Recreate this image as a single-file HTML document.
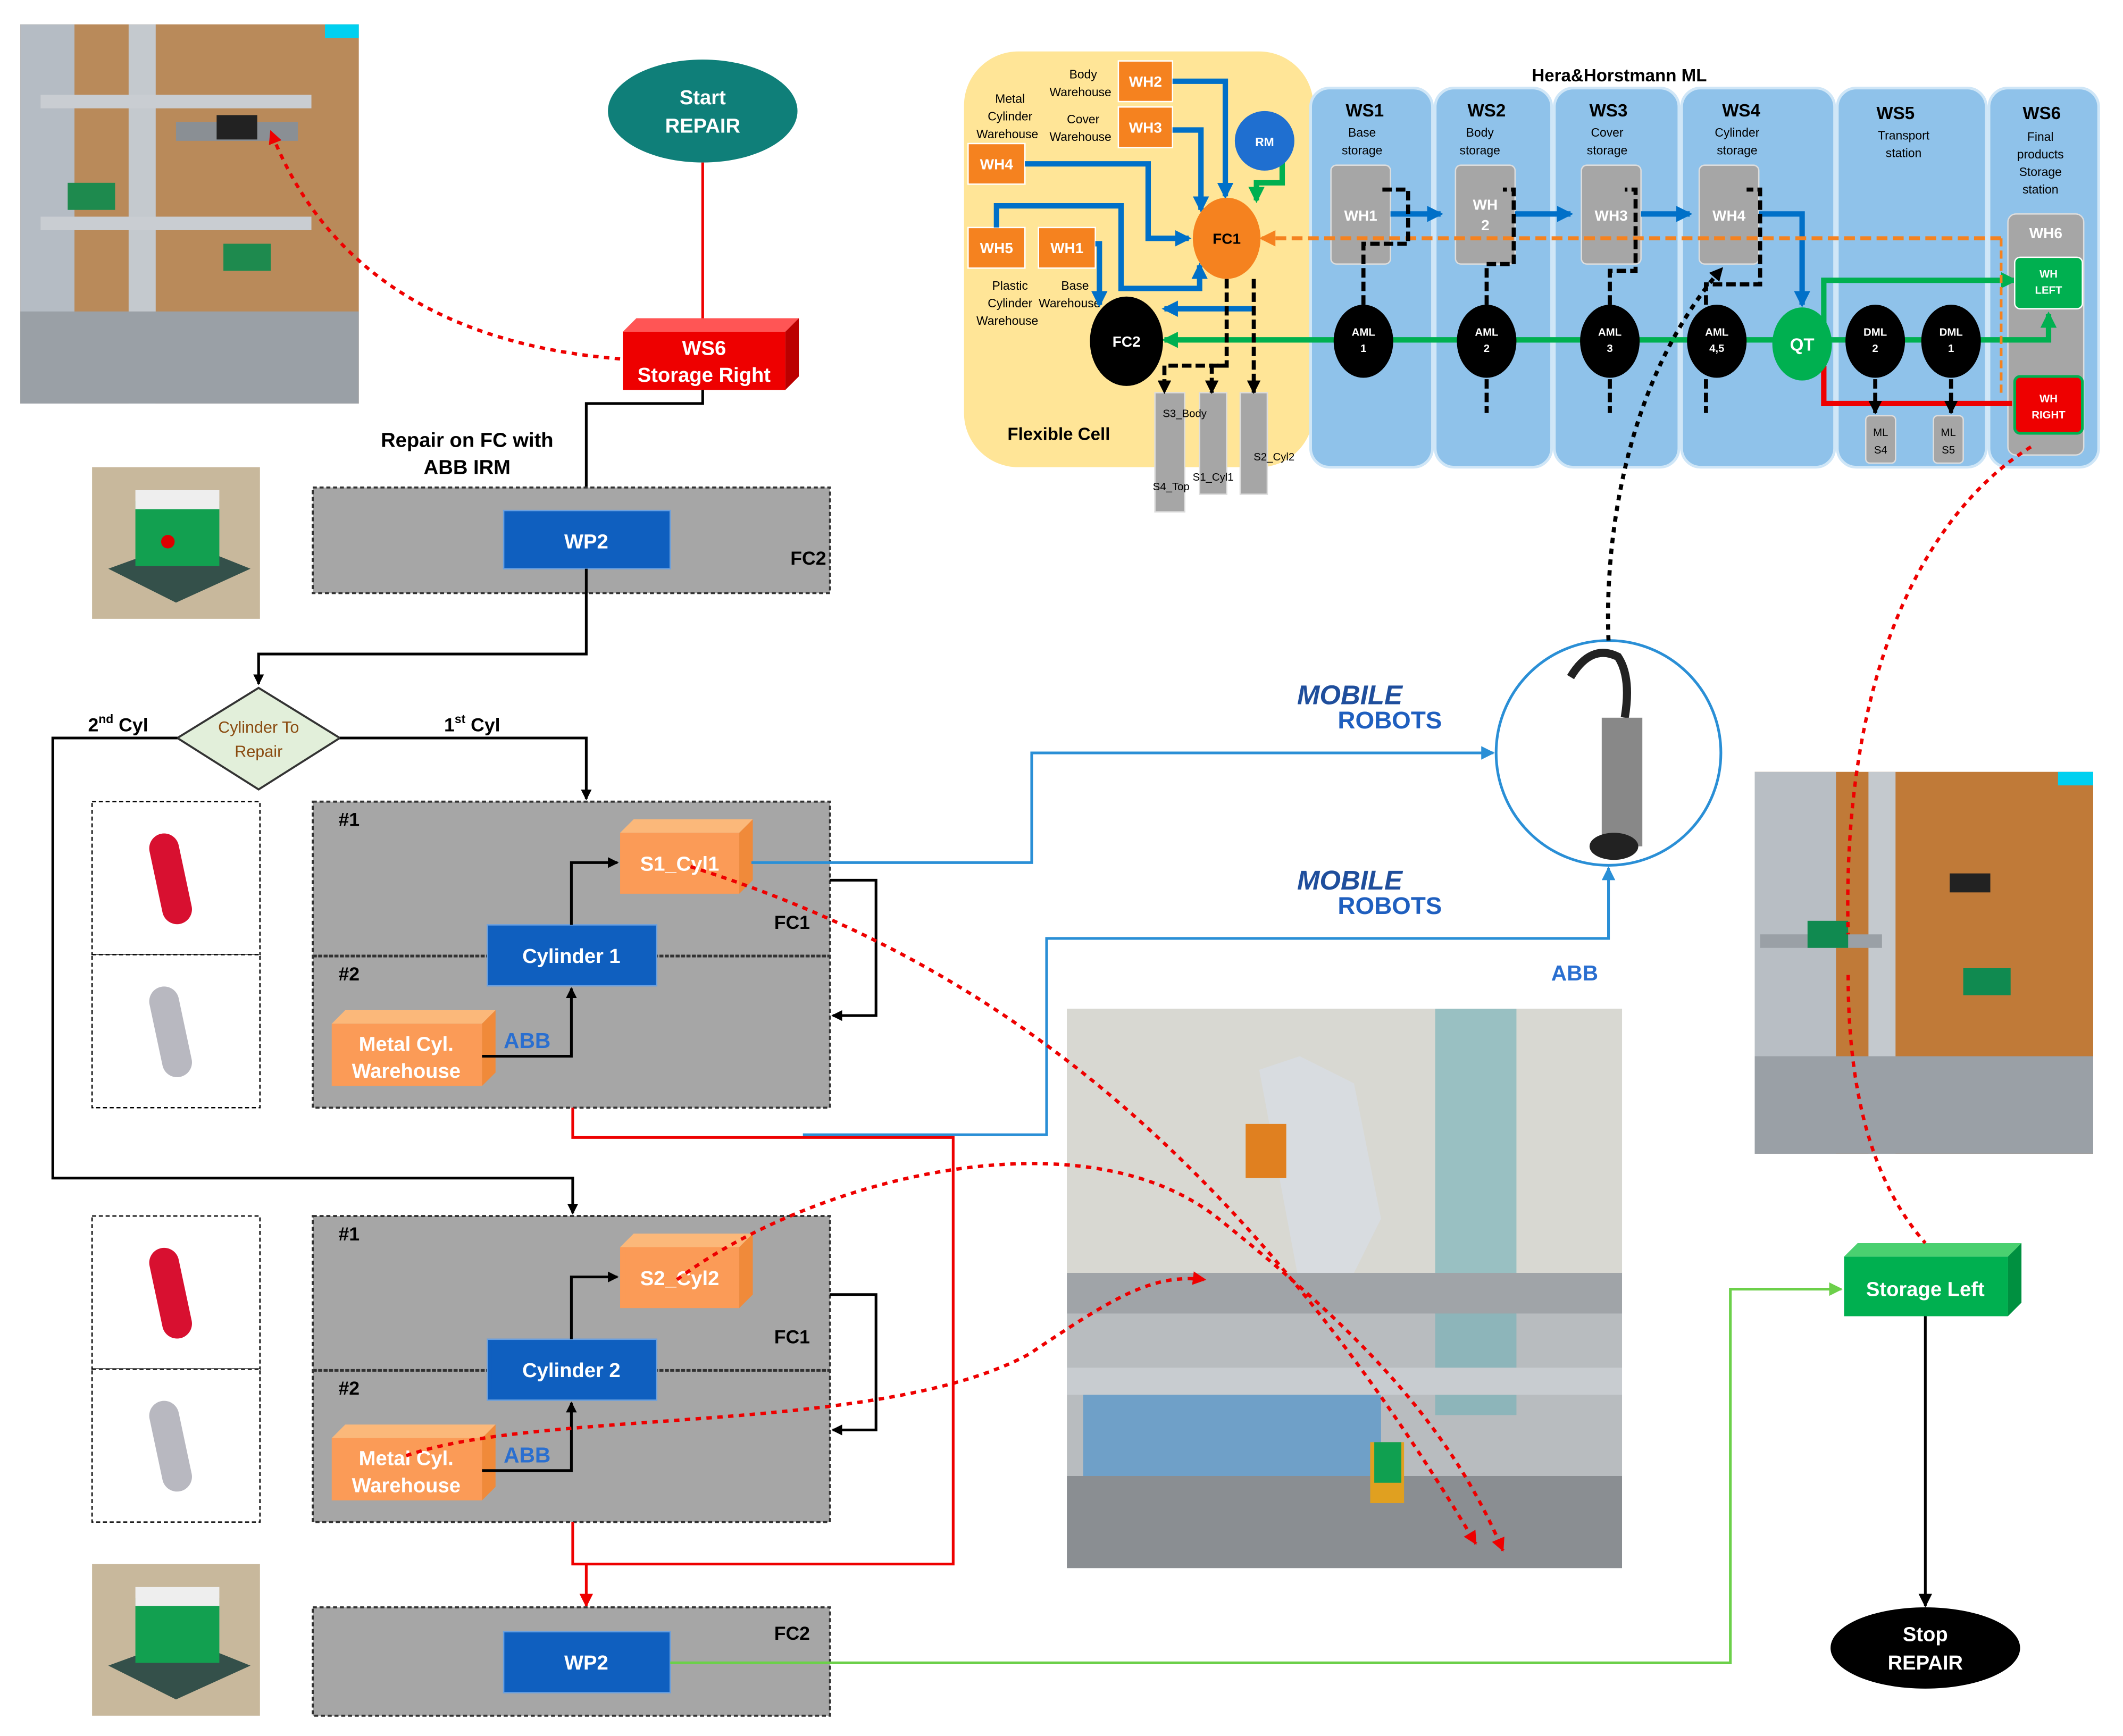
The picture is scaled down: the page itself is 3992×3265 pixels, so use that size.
<!DOCTYPE html>
<html><head><meta charset="utf-8"><style>
html,body{margin:0;padding:0;background:#fff;}
svg{display:block;}
text{font-family:"Liberation Sans",sans-serif;}
</style></head><body>
<svg width="3992" height="3265" viewBox="0 0 1568 1282" preserveAspectRatio="none" xmlns="http://www.w3.org/2000/svg">
<defs>
<marker id="ab" markerWidth="8" markerHeight="8" refX="7" refY="4" orient="auto" markerUnits="userSpaceOnUse"><path d="M0,0 L8,4 L0,8 z" fill="#000"/></marker>
<marker id="ar" markerWidth="10" markerHeight="10" refX="9" refY="5" orient="auto" markerUnits="userSpaceOnUse"><path d="M0,0 L10,5 L0,10 z" fill="#e00"/></marker>
<marker id="abl" markerWidth="10" markerHeight="10" refX="9" refY="5" orient="auto" markerUnits="userSpaceOnUse"><path d="M0,0 L10,5 L0,10 z" fill="#2a8fd6"/></marker>
<marker id="ag" markerWidth="10" markerHeight="10" refX="9" refY="5" orient="auto" markerUnits="userSpaceOnUse"><path d="M0,0 L10,5 L0,10 z" fill="#6cd04a"/></marker>
<marker id="ab2" markerWidth="12" markerHeight="12" refX="10" refY="6" orient="auto" markerUnits="userSpaceOnUse"><path d="M0,0 L12,6 L0,12 z" fill="#0070c8"/></marker>
<marker id="ag2" markerWidth="12" markerHeight="12" refX="10" refY="6" orient="auto" markerUnits="userSpaceOnUse"><path d="M0,0 L12,6 L0,12 z" fill="#00b050"/></marker>
<marker id="ao" markerWidth="12" markerHeight="12" refX="10" refY="6" orient="auto" markerUnits="userSpaceOnUse"><path d="M0,0 L12,6 L0,12 z" fill="#f58220"/></marker>
<marker id="ak" markerWidth="10" markerHeight="10" refX="9" refY="5" orient="auto" markerUnits="userSpaceOnUse"><path d="M0,0 L10,5 L0,10 z" fill="#000"/></marker>
</defs>

<!-- top-left photo -->
<rect x="15" y="18" width="250" height="280" fill="#b98a5a"/>
<rect x="15" y="18" width="40" height="280" fill="#b5bcc4"/>
<rect x="95" y="18" width="20" height="280" fill="#c4c9ce"/>
<rect x="30" y="70" width="200" height="10" fill="#c9cdd2"/>
<rect x="30" y="160" width="200" height="10" fill="#c9cdd2"/>
<rect x="130" y="90" width="90" height="14" fill="#8a8f94"/>
<rect x="160" y="85" width="30" height="18" fill="#222"/>
<rect x="50" y="135" width="35" height="20" fill="#1e8a4e"/>
<rect x="165" y="180" width="35" height="20" fill="#1e8a4e"/>
<rect x="15" y="230" width="250" height="68" fill="#9aa0a6"/>
<rect x="240" y="18" width="25" height="10" fill="#00d0f0"/>

<!-- start -->
<ellipse cx="519" cy="82" rx="70" ry="38" fill="#0f7f79"/>
<text x="519" y="77" font-size="15" fill="#fff" text-anchor="middle" font-weight="bold">Start</text>
<text x="519" y="98" font-size="15" fill="#fff" text-anchor="middle" font-weight="bold">REPAIR</text>
<line x1="519" y1="120" x2="519" y2="240" stroke="#e00" stroke-width="2"/>
<!-- WS6 storage right -->
<polygon points="460,245 470,235 590,235 580,245" fill="#f55"/>
<polygon points="580,245 590,235 590,278 580,288" fill="#b00"/>
<rect x="460" y="245" width="120" height="43" fill="#e00"/>
<text x="520" y="262" font-size="15" fill="#fff" text-anchor="middle" font-weight="bold">WS6</text>
<text x="520" y="282" font-size="15" fill="#fff" text-anchor="middle" font-weight="bold">Storage Right</text>
<polyline points="519,288 519,298 433,298 433,375" fill="none" stroke="#000" stroke-width="2" marker-end="url(#ab)"/>
<text x="345" y="330" font-size="15" text-anchor="middle" font-weight="bold">Repair on FC with</text>
<text x="345" y="350" font-size="15" text-anchor="middle" font-weight="bold">ABB IRM</text>

<!-- part image top -->
<rect x="68" y="345" width="124" height="112" fill="#c8b89c"/>
<polygon points="80,420 130,445 185,420 135,400" fill="#34504a"/>
<rect x="100" y="370" width="62" height="48" fill="#12a050"/>
<rect x="100" y="362" width="62" height="14" fill="#eee"/>
<circle cx="124" cy="400" r="5" fill="#d00"/>

<!-- box FC2 top -->
<rect x="231" y="360" width="382" height="78" fill="#a6a6a6" stroke="#333" stroke-width="1.5" stroke-dasharray="3,2"/>
<rect x="372" y="377" width="123" height="43" fill="#0f5fbf" stroke="#6aa0e0"/>
<text x="433" y="405" font-size="15" fill="#fff" text-anchor="middle" font-weight="bold">WP2</text>
<text x="597" y="417" font-size="14" text-anchor="middle" font-weight="bold">FC2</text>
<polyline points="433,420 433,483 191,483 191,505" fill="none" stroke="#000" stroke-width="2" marker-end="url(#ab)"/>

<!-- diamond -->
<polygon points="191,508 251,545 191,583 131,545" fill="#e2efda" stroke="#333" stroke-width="1.5"/>
<text x="191" y="541" font-size="12" fill="#8a4b10" text-anchor="middle">Cylinder To</text>
<text x="191" y="559" font-size="12" fill="#8a4b10" text-anchor="middle">Repair</text>
<text x="65" y="540" font-size="14" font-weight="bold">2<tspan font-size="9" dy="-6">nd</tspan><tspan dy="6"> Cyl</tspan></text>
<text x="328" y="540" font-size="14" font-weight="bold">1<tspan font-size="9" dy="-6">st</tspan><tspan dy="6"> Cyl</tspan></text>
<polyline points="251,545 433,545 433,590" fill="none" stroke="#000" stroke-width="2" marker-end="url(#ab)"/>
<polyline points="131,545 39,545 39,870 423,870 423,896" fill="none" stroke="#000" stroke-width="2" marker-end="url(#ab)"/>

<!-- cylinder images -->
<g>
<rect x="68" y="592" width="124" height="113" fill="#fff" stroke="#000" stroke-dasharray="3,2"/>
<rect x="68" y="705" width="124" height="113" fill="#fff" stroke="#000" stroke-dasharray="3,2"/>
<rect x="115" y="615" width="22" height="68" rx="11" fill="#d81030" transform="rotate(-12 126 649)"/>
<rect x="115" y="728" width="22" height="68" rx="11" fill="#b8b8c0" transform="rotate(-12 126 762)"/>
<rect x="68" y="898" width="124" height="113" fill="#fff" stroke="#000" stroke-dasharray="3,2"/>
<rect x="68" y="1011" width="124" height="113" fill="#fff" stroke="#000" stroke-dasharray="3,2"/>
<rect x="115" y="921" width="22" height="68" rx="11" fill="#d81030" transform="rotate(-12 126 955)"/>
<rect x="115" y="1034" width="22" height="68" rx="11" fill="#b8b8c0" transform="rotate(-12 126 1068)"/>
</g>

<!-- FC1 box 1 -->
<g id="b1">
<rect x="231" y="592" width="382" height="226" fill="#a6a6a6" stroke="#333" stroke-width="1.5" stroke-dasharray="3,2"/>
<line x1="231" y1="706" x2="613" y2="706" stroke="#333" stroke-width="2" stroke-dasharray="3,1"/>
<text x="250" y="610" font-size="14" font-weight="bold">#1</text>
<text x="250" y="724" font-size="14" font-weight="bold">#2</text>
<text x="585" y="686" font-size="14" text-anchor="middle" font-weight="bold">FC1</text>
<polygon points="458,615 468,605 556,605 546,615" fill="#fbb87a"/>
<polygon points="546,615 556,605 556,650 546,660" fill="#f08a3a"/>
<rect x="458" y="615" width="88" height="45" fill="#fb9b57"/>
<text x="502" y="643" font-size="15" fill="#fff" text-anchor="middle" font-weight="bold">S1_Cyl1</text>
<rect x="360" y="683" width="125" height="45" fill="#0f5fbf" stroke="#6aa0e0"/>
<text x="422" y="711" font-size="15" fill="#fff" text-anchor="middle" font-weight="bold">Cylinder 1</text>
<polygon points="245,756 255,746 366,746 356,756" fill="#fbb87a"/>
<polygon points="356,756 366,746 366,792 356,802" fill="#f08a3a"/>
<rect x="245" y="756" width="111" height="46" fill="#fb9b57"/>
<text x="300" y="776" font-size="15" fill="#fff" text-anchor="middle" font-weight="bold">Metal Cyl.</text>
<text x="300" y="796" font-size="15" fill="#fff" text-anchor="middle" font-weight="bold">Warehouse</text>
<text x="372" y="774" font-size="16" fill="#2a6fd0" font-weight="bold">ABB</text>
<polyline points="356,780 422,780 422,730" fill="none" stroke="#000" stroke-width="2" marker-end="url(#ab)"/>
<polyline points="422,683 422,637 456,637" fill="none" stroke="#000" stroke-width="2" marker-end="url(#ab)"/>
<polyline points="613,650 647,650 647,750 615,750" fill="none" stroke="#000" stroke-width="2" marker-end="url(#ab)"/>
</g>
<use href="#b1" transform="translate(0,306)"/>
<rect x="462" y="921" width="80" height="40" fill="#fb9b57"/>
<text x="502" y="949" font-size="15" fill="#fff" text-anchor="middle" font-weight="bold">S2_Cyl2</text>
<rect x="363" y="992" width="119" height="40" fill="#0f5fbf"/>
<text x="422" y="1017" font-size="15" fill="#fff" text-anchor="middle" font-weight="bold">Cylinder 2</text>

<!-- red path -->
<polyline points="423,818 423,840 704,840 704,1155 433,1155" fill="none" stroke="#e00" stroke-width="2"/>
<polyline points="423,1124 423,1155 433,1155 433,1186" fill="none" stroke="#e00" stroke-width="2" marker-end="url(#ar)"/>

<!-- FC2 bottom -->
<rect x="68" y="1155" width="124" height="112" fill="#c8b89c"/>
<polygon points="80,1230 130,1255 185,1230 135,1210" fill="#34504a"/>
<rect x="100" y="1180" width="62" height="48" fill="#12a050"/>
<rect x="100" y="1172" width="62" height="14" fill="#eee"/>
<rect x="231" y="1187" width="382" height="80" fill="#a6a6a6" stroke="#333" stroke-width="1.5" stroke-dasharray="3,2"/>
<rect x="372" y="1205" width="123" height="45" fill="#0f5fbf" stroke="#6aa0e0"/>
<text x="433" y="1233" font-size="15" fill="#fff" text-anchor="middle" font-weight="bold">WP2</text>
<text x="585" y="1211" font-size="14" text-anchor="middle" font-weight="bold">FC2</text>
<polyline points="495,1228 1278,1228 1278,952 1360,952" fill="none" stroke="#6cd04a" stroke-width="2" marker-end="url(#ag)"/>

<!-- storage left, stop -->
<polygon points="1362,928 1372,918 1493,918 1483,928" fill="#4ad070"/>
<polygon points="1483,928 1493,918 1493,962 1483,972" fill="#009040"/>
<rect x="1362" y="928" width="121" height="44" fill="#00b050"/>
<text x="1422" y="957" font-size="15" fill="#fff" text-anchor="middle" font-weight="bold">Storage Left</text>
<line x1="1422" y1="972" x2="1422" y2="1186" stroke="#000" stroke-width="2" marker-end="url(#ak)"/>
<ellipse cx="1422" cy="1217" rx="70" ry="30" fill="#000"/>
<text x="1422" y="1212" font-size="15" fill="#fff" text-anchor="middle" font-weight="bold">Stop</text>
<text x="1422" y="1233" font-size="15" fill="#fff" text-anchor="middle" font-weight="bold">REPAIR</text>

<!-- robot circle -->
<circle cx="1188" cy="556" r="83" fill="#fff" stroke="#2a8fd6" stroke-width="2"/>
<path d="M1160,500 Q1175,475 1195,485 Q1205,500 1200,530" fill="none" stroke="#222" stroke-width="6"/>
<rect x="1183" y="530" width="30" height="95" fill="#888"/>
<ellipse cx="1192" cy="625" rx="18" ry="10" fill="#222"/>
<polyline points="555,637 762,637 762,556 1103,556" fill="none" stroke="#2a8fd6" stroke-width="2" marker-end="url(#abl)"/>
<polyline points="593,838 773,838 773,693 1188,693 1188,641" fill="none" stroke="#2a8fd6" stroke-width="2" marker-end="url(#abl)"/>
<text x="958" y="520" font-size="20" fill="#1f4e9c" font-style="italic" font-weight="bold">MOBILE</text>
<text x="988" y="538" font-size="18" fill="#1f5fbf" font-weight="bold">ROBOTS</text>
<text x="958" y="657" font-size="20" fill="#1f4e9c" font-style="italic" font-weight="bold">MOBILE</text>
<text x="988" y="675" font-size="18" fill="#1f5fbf" font-weight="bold">ROBOTS</text>
<text x="1163" y="724" font-size="16" fill="#2a6fd0" text-anchor="middle" font-weight="bold">ABB</text>

<!-- lab photo -->
<rect x="788" y="745" width="410" height="413" fill="#b8bcbf"/>
<rect x="788" y="745" width="410" height="200" fill="#d8d8d2"/>
<rect x="1060" y="745" width="60" height="300" fill="#6fb0b8" opacity="0.6"/>
<path d="M930,790 L960,780 L1000,800 L1020,900 L990,960 L960,950 Z" fill="#d8dce0"/>
<rect x="920" y="830" width="30" height="40" fill="#e08020"/>
<rect x="788" y="940" width="410" height="30" fill="#a0a4a8"/>
<rect x="788" y="1010" width="410" height="20" fill="#c8ccd0"/>
<rect x="800" y="1030" width="220" height="70" fill="#6fa0c8"/>
<rect x="788" y="1090" width="410" height="68" fill="#8a8e92"/>
<rect x="1012" y="1065" width="25" height="45" fill="#e0a020"/>
<rect x="1015" y="1065" width="20" height="30" fill="#10a050"/>

<!-- right photo -->
<rect x="1296" y="570" width="250" height="282" fill="#c07a38"/>
<rect x="1296" y="570" width="60" height="282" fill="#b8bec4"/>
<rect x="1380" y="570" width="20" height="282" fill="#c4c9ce"/>
<rect x="1300" y="690" width="90" height="10" fill="#9aa0a6"/>
<rect x="1335" y="680" width="30" height="20" fill="#108a50"/>
<rect x="1440" y="645" width="30" height="14" fill="#222"/>
<rect x="1450" y="715" width="35" height="20" fill="#108a50"/>
<rect x="1296" y="780" width="250" height="72" fill="#9aa0a6"/>
<rect x="1520" y="570" width="26" height="10" fill="#00d0f0"/>

<!-- top right diagram -->
<rect x="712" y="38" width="258" height="307" rx="40" fill="#ffe597"/>
<g fill="#8fc2ea" stroke="#cfe6f7" stroke-width="2">
<rect x="968" y="65" width="90" height="280" rx="14"/>
<rect x="1060" y="65" width="86" height="280" rx="14"/>
<rect x="1148" y="65" width="92" height="280" rx="14"/>
<rect x="1242" y="65" width="113" height="280" rx="14"/>
<rect x="1357" y="65" width="110" height="280" rx="14"/>
<rect x="1469" y="65" width="81" height="280" rx="14"/>
</g>
<text x="1196" y="60" font-size="13" text-anchor="middle" font-weight="bold">Hera&amp;Horstmann ML</text>
<g font-size="13" font-weight="bold" text-anchor="middle">
<text x="1008" y="86">WS1</text><text x="1098" y="86">WS2</text><text x="1188" y="86">WS3</text><text x="1286" y="86">WS4</text><text x="1400" y="88">WS5</text><text x="1508" y="88">WS6</text>
</g>
<g font-size="9" text-anchor="middle">
<text x="1006" y="101">Base</text><text x="1006" y="114">storage</text>
<text x="1093" y="101">Body</text><text x="1093" y="114">storage</text>
<text x="1187" y="101">Cover</text><text x="1187" y="114">storage</text>
<text x="1283" y="101">Cylinder</text><text x="1283" y="114">storage</text>
<text x="1406" y="103">Transport</text><text x="1406" y="116">station</text>
<text x="1507" y="104">Final</text><text x="1507" y="117">products</text><text x="1507" y="130">Storage</text><text x="1507" y="143">station</text>
<text x="800" y="58">Body</text><text x="798" y="71">Warehouse</text>
<text x="746" y="76">Metal</text><text x="746" y="89">Cylinder</text><text x="744" y="102">Warehouse</text>
<text x="800" y="91">Cover</text><text x="798" y="104">Warehouse</text>
<text x="746" y="214">Plastic</text><text x="746" y="227">Cylinder</text><text x="744" y="240">Warehouse</text>
<text x="794" y="214">Base</text><text x="790" y="227">Warehouse</text>
</g>
<text x="782" y="325" font-size="13" text-anchor="middle" font-weight="bold">Flexible Cell</text>
<g fill="#f5821f" stroke="#fff">
<rect x="826" y="45" width="40" height="30"/><rect x="826" y="79" width="40" height="30"/>
<rect x="715" y="106" width="42" height="30"/><rect x="715" y="168" width="42" height="30"/><rect x="767" y="168" width="42" height="30"/>
</g>
<g font-size="11" fill="#fff" font-weight="bold" text-anchor="middle">
<text x="846" y="64">WH2</text><text x="846" y="98">WH3</text><text x="736" y="125">WH4</text><text x="736" y="187">WH5</text><text x="788" y="187">WH1</text>
</g>
<g fill="#a6a6a6" stroke="#ddd">
<rect x="983" y="122" width="44" height="73" rx="4"/><rect x="1075" y="122" width="44" height="73" rx="4"/>
<rect x="1168" y="122" width="44" height="73" rx="4"/><rect x="1255" y="122" width="44" height="73" rx="4"/>
<rect x="1483" y="158" width="56" height="178" rx="6"/>
<rect x="853" y="290" width="22" height="88"/><rect x="886" y="290" width="20" height="75"/><rect x="916" y="290" width="20" height="75"/>
<rect x="1378" y="307" width="22" height="35" rx="3"/><rect x="1428" y="307" width="22" height="35" rx="3"/>
</g>
<g font-size="11" fill="#fff" font-weight="bold" text-anchor="middle">
<text x="1005" y="163">WH1</text><text x="1097" y="155">WH</text><text x="1097" y="170">2</text>
<text x="1190" y="163">WH3</text><text x="1277" y="163">WH4</text><text x="1511" y="176">WH6</text>
</g>
<g font-size="8" text-anchor="middle"><text x="875" y="308">S3_Body</text><text x="896" y="355">S1_Cyl1</text><text x="941" y="340">S2_Cyl2</text><text x="865" y="362">S4_Top</text>
<text x="1389" y="322">ML</text><text x="1389" y="335">S4</text><text x="1439" y="322">ML</text><text x="1439" y="335">S5</text></g>
<g fill="none" stroke="#0070c8" stroke-width="4">
<polyline points="866,60 905,60 905,145" marker-end="url(#ab2)"/>
<polyline points="866,96 887,96 887,155" marker-end="url(#ab2)"/>
<polyline points="757,121 848,121 848,176 878,176" marker-end="url(#ab2)"/>
<polyline points="736,168 736,152 828,152 828,213 886,213 886,196" marker-end="url(#ab2)"/>
<polyline points="809,180 812,180 812,225" marker-end="url(#ab2)"/>
<polyline points="927,228 860,228" marker-end="url(#ab2)"/>
<polyline points="1027,158 1064,158" marker-end="url(#ab2)"/>
<polyline points="1119,158 1160,158" marker-end="url(#ab2)"/>
<polyline points="1212,158 1248,158" marker-end="url(#ab2)"/>
<polyline points="1299,158 1331,158 1331,225" marker-end="url(#ab2)"/>
</g>
<polyline points="947,117 947,135 928,135 928,148" fill="none" stroke="#00b050" stroke-width="4" marker-end="url(#ag2)"/>
<ellipse cx="934" cy="104" rx="22" ry="22" fill="#1f6fd0"/>
<text x="934" y="108" font-size="9" fill="#fff" text-anchor="middle" font-weight="bold">RM</text>
<ellipse cx="906" cy="176" rx="25" ry="30" fill="#f5821f"/>
<text x="906" y="180" font-size="11" font-weight="bold" text-anchor="middle">FC1</text>
<line x1="1480" y1="251" x2="860" y2="251" stroke="#00b050" stroke-width="4" marker-end="url(#ag2)"/>
<polyline points="1480,251 1513,251 1513,232" fill="none" stroke="#00b050" stroke-width="4" marker-end="url(#ag2)"/>
<polyline points="1347,240 1347,207 1488,207" fill="none" stroke="#00b050" stroke-width="4" marker-end="url(#ag2)"/>
<polyline points="1347,270 1347,298 1486,298" fill="none" stroke="#e00" stroke-width="4"/>
<line x1="1478" y1="176" x2="932" y2="176" stroke="#f58220" stroke-width="3" stroke-dasharray="8,4" marker-end="url(#ao)"/>
<line x1="1478" y1="176" x2="1478" y2="292" stroke="#f58220" stroke-width="2" stroke-dasharray="6,3"/>
<ellipse cx="832" cy="252" rx="27" ry="33" fill="#000"/>
<text x="832" y="256" font-size="11" fill="#fff" font-weight="bold" text-anchor="middle">FC2</text>
<g fill="#000"><ellipse cx="1007" cy="252" rx="22" ry="27"/><ellipse cx="1098" cy="252" rx="22" ry="27"/><ellipse cx="1189" cy="252" rx="22" ry="27"/><ellipse cx="1268" cy="252" rx="22" ry="27"/><ellipse cx="1385" cy="252" rx="22" ry="27"/><ellipse cx="1441" cy="252" rx="22" ry="27"/></g>
<ellipse cx="1331" cy="254" rx="22" ry="27" fill="#00b050"/>
<g font-size="8" fill="#fff" font-weight="bold" text-anchor="middle">
<text x="1007" y="248">AML</text><text x="1007" y="260">1</text><text x="1098" y="248">AML</text><text x="1098" y="260">2</text>
<text x="1189" y="248">AML</text><text x="1189" y="260">3</text><text x="1268" y="248">AML</text><text x="1268" y="260">4,5</text>
<text x="1385" y="248">DML</text><text x="1385" y="260">2</text><text x="1441" y="248">DML</text><text x="1441" y="260">1</text>
</g>
<text x="1331" y="259" font-size="13" fill="#fff" font-weight="bold" text-anchor="middle">QT</text>
<rect x="1488" y="190" width="50" height="38" rx="4" fill="#00b050" stroke="#fff"/>
<text x="1513" y="205" font-size="8" fill="#fff" font-weight="bold" text-anchor="middle">WH</text>
<text x="1513" y="217" font-size="8" fill="#fff" font-weight="bold" text-anchor="middle">LEFT</text>
<rect x="1488" y="278" width="50" height="42" rx="4" fill="#e00" stroke="#00b050" stroke-width="2"/>
<text x="1513" y="297" font-size="8" fill="#fff" font-weight="bold" text-anchor="middle">WH</text>
<text x="1513" y="309" font-size="8" fill="#fff" font-weight="bold" text-anchor="middle">RIGHT</text>
<g fill="none" stroke="#000" stroke-width="3" stroke-dasharray="7,3">
<polyline points="1007,225 1007,180 1040,180 1040,140 1020,140"/>
<polyline points="1098,225 1098,195 1118,195 1118,140 1110,140"/>
<polyline points="1189,225 1189,200 1208,200 1208,140 1200,140"/>
<polyline points="1260,225 1260,210 1300,210 1300,140 1290,140"/>
<polyline points="1098,280 1098,305"/><polyline points="1189,280 1189,305"/><polyline points="1260,280 1260,305"/>
<polyline points="906,206 906,270 860,270 860,290" marker-end="url(#ak)"/>
<polyline points="926,206 926,290" marker-end="url(#ak)"/>
<polyline points="906,270 895,270 895,290" marker-end="url(#ak)"/>
<polyline points="1385,280 1385,305" marker-end="url(#ak)"/>
<polyline points="1441,280 1441,305" marker-end="url(#ak)"/>
</g>
<path d="M1188,473 C1185,400 1200,280 1272,198" fill="none" stroke="#000" stroke-width="3" stroke-dasharray="4,4" marker-end="url(#ak)"/>

<g fill="none" stroke="#e00" stroke-width="2.5" stroke-dasharray="4,4">
<path d="M458,265 C330,255 240,200 200,97" marker-end="url(#ar)"/>
<path d="M510,640 C700,700 900,820 1090,1140" marker-end="url(#ar)"/>
<path d="M500,945 C600,870 800,820 900,900 C1000,980 1070,1050 1110,1145" marker-end="url(#ar)"/>
<path d="M300,1075 C400,1040 650,1060 760,1000 C820,960 850,940 890,945" marker-end="url(#ar)"/>
<path d="M1500,330 C1420,380 1360,500 1365,690"/>
<path d="M1365,720 C1365,800 1380,870 1422,918"/>
</g>
</svg>
</body></html>
